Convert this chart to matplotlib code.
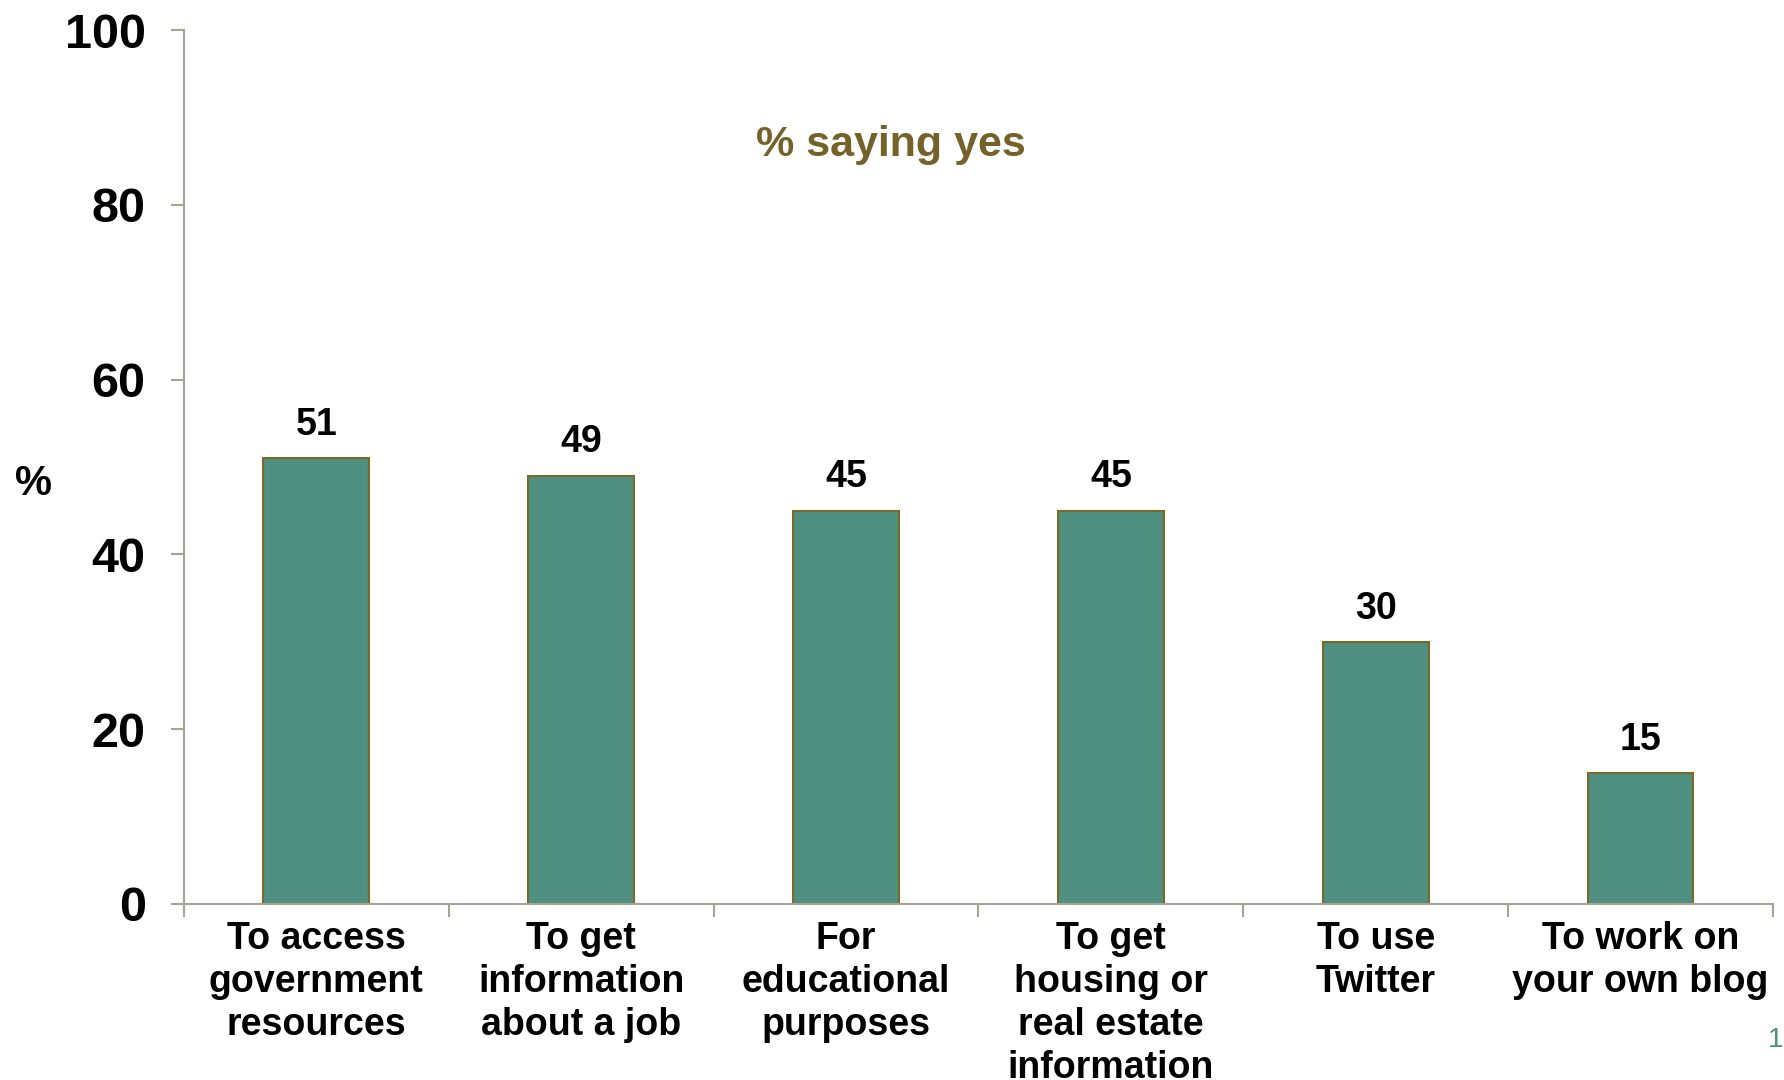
import matplotlib.pyplot as plt
import numpy as np

categories = [
    "To access\ngovernment\nresources",
    "To get\ninformation\nabout a job",
    "For\neducational\npurposes",
    "To get\nhousing or\nreal estate\ninformation",
    "To use\nTwitter",
    "To work on\nyour own blog",
]
values = [51, 49, 45, 45, 30, 15]
y_ticks = [0, 20, 40, 60, 80, 100]

plt.rcParams['font.family'] = ['Liberation Sans', 'DejaVu Sans']

bar_color = '#4F9080'
edge_color = '#7A6A2A'
axis_color = '#A8A294'

fig = plt.figure(figsize=(17.84, 10.8), dpi=100)
ax = fig.add_axes([0.1031, 0.163, 0.8907, 0.8092])

x = np.arange(len(categories))
bars = ax.bar(x, values, width=0.40, color=bar_color, edgecolor=edge_color, linewidth=1.5)

for b, v in zip(bars, values):
    ax.annotate(str(v), (b.get_x() + b.get_width() / 2, v), xytext=(0, 11),
                textcoords='offset points', ha='center', va='bottom',
                fontsize=27, fontweight='bold')

ax.set_xlim(-0.5, len(categories) - 0.5)
ax.set_ylim(0, 100)
ax.set_yticks(y_ticks)
ax.set_yticklabels([str(t) for t in y_ticks], fontsize=35, fontweight='bold')

# labels sit under the bars, tick marks go between them
ax.set_xticks(x)
ax.set_xticklabels(categories, fontsize=27, fontweight='bold', linespacing=1.25)
ax.set_xticks(np.arange(-0.5, len(categories)), minor=True)
ax.tick_params(axis='x', which='major', length=0, pad=12)
ax.tick_params(axis='x', which='minor', length=9.5, width=1.5, color=axis_color, direction='out')
ax.tick_params(axis='y', length=9.5, width=1.5, color=axis_color, direction='out', pad=18)

for s in ['top', 'right']:
    ax.spines[s].set_visible(False)
for s in ['left', 'bottom']:
    ax.spines[s].set_color(axis_color)
    ax.spines[s].set_linewidth(1.5)

fig.text(34 / 1784, 1 - 484 / 1080, '%', fontsize=30, fontweight='bold', ha='center', va='center')
fig.text(891 / 1784, 1 - 145 / 1080, '% saying yes', fontsize=31, fontweight='bold',
         color='#756229', ha='center', va='center')
fig.text(1768 / 1784, 1 - 1040 / 1080, '1', fontsize=20, color='#4F9080', ha='left', va='center')

fig.savefig('out.png', dpi=100)
